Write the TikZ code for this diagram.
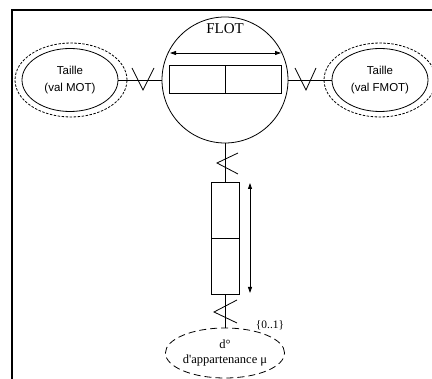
\documentclass[tikz,border=0pt]{standalone}
\usepackage{fontspec}
\setmainfont{Liberation Serif}
\newfontfamily\arialfont{Liberation Sans}
\usetikzlibrary{arrows.meta,positioning,shapes.geometric,calc}

\begin{document}
\begin{tikzpicture}[
  x=1pt, y=-1pt,
  >={Triangle[length=6pt,width=4pt]},
  line width=0.8pt,
  frame/.style={line width=2pt},
  cell/.style={
    rectangle, draw, minimum width=56pt, minimum height=28pt, inner sep=0pt
  },
  vcell/.style={
    rectangle, draw, minimum width=28pt, minimum height=56pt, inner sep=0pt
  },
  taille/.style={
    ellipse, draw, minimum width=96pt, minimum height=63pt, inner sep=0pt,
    align=center, font=\arialfont\fontsize{11.5}{17}\selectfont
  },
  halo/.style={
    ellipse, draw, dashed, dash pattern=on 2.5pt off 1.5pt,
    minimum width=112pt, minimum height=74pt, inner sep=0pt
  },
  degre/.style={
    ellipse, draw, dash pattern=on 7pt off 4pt,
    minimum width=114pt, minimum height=50pt, inner sep=0pt,
    align=center, font=\fontsize{12.5}{15}\selectfont
  },
  card/.style={line width=0.8pt}
]
\useasboundingbox (0,0) rectangle (432,379);

% frame (top and left edges only)
\draw[frame] (432,10) -- (12,10) -- (12,379);

% central entity
\node[circle, draw, minimum size=126pt, inner sep=0pt] (flot) at (225,80) {};
\node[font=\fontsize{15}{17}\selectfont] (flotlbl) at (225,29) {FLOT};
\node[cell] (c1) at (197,79) {};
\node[cell] (c2) at (253,79) {};
\coordinate (ha) at (170,53);
\coordinate (hb) at (281,53);
\draw[<->] (ha) -- (hb);

% side ellipses
\node[halo] (motout) at (71,80) {};
\node[taille] (mot) at (70,80) {Taille\\(val MOT)};
\node[halo] (fmotout) at (380,80) {};
\node[taille] (fmot) at (380,80) {Taille\\(val FMOT)};

% horizontal links with marks
\draw (mot.east) -- (flot.west);
\draw (flot.east) -- (fmot.west);
\coordinate (vl) at (143,80);
\coordinate (vr) at (306,80);
\draw[card] ($(vl)+(-11,-12)$) -- ($(vl)+(0,10)$) -- ($(vl)+(11,-12)$);
\draw[card] ($(vr)+(-11,-12)$) -- ($(vr)+(0,10)$) -- ($(vr)+(10,-12)$);

% vertical component
\node[vcell] (v1) at (225,210) {};
\node[vcell] (v2) at (225,266) {};
\coordinate (va) at (250,183);
\coordinate (vb) at (250,293);
\draw[<->] (va) -- (vb);

% membership degree
\node[degre] (deg) at (225,353) {d°\\d\textquotesingle appartenance μ};
\node[font=\fontsize{11.4}{13}\selectfont] (card01) at (270,325) {\{0..1\}};

% vertical links with marks
\draw (flot.south) -- (v1.north);
\draw (v2.south) -- (deg.north);
\coordinate (mu) at (225,163);
\coordinate (md) at (225,312);
\draw[card] ($(mu)+(13,-10)$) -- ($(mu)+(-8,0)$) -- ($(mu)+(13,11)$);
\draw[card] ($(md)+(12,-12)$) -- ($(md)+(-11,0)$) -- ($(md)+(12,11)$);

\end{tikzpicture}
\end{document}
